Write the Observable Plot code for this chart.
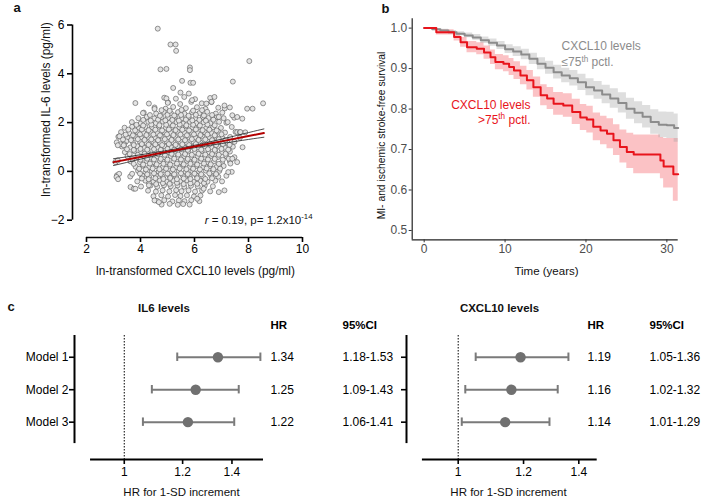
<!DOCTYPE html>
<html><head><meta charset="utf-8">
<script src="https://cdn.jsdelivr.net/npm/d3@7"></script>
<script src="https://cdn.jsdelivr.net/npm/@observablehq/plot@0.6"></script>
<style>
html,body{margin:0;padding:0;background:#fff;}
#wrap{position:relative;width:702px;height:499px;overflow:hidden;background:#fff;}
#wrap svg{position:absolute;left:0;top:0;background:transparent !important;overflow:visible;max-width:none;}
</style></head><body><div id="wrap"></div>
<script>
// ---------- Panel a: scatter (ln CXCL10 vs ln IL-6) ----------
const scatterCore = [
[4.88,3.02],[5.31,2.98],[5.62,3.05],[6.02,2.96],[6.58,3.01],
[4.31,2.78],[5.02,2.83],[5.47,2.76],[5.88,2.85],[6.27,2.79],[6.63,2.84],
[4.52,2.62],[4.93,2.57],[5.21,2.64],[5.68,2.59],[6.09,2.63],[6.41,2.56],[6.88,2.61],[7.12,2.58],
[4.12,2.41],[4.58,2.37],[4.86,2.44],[5.13,2.38],[5.39,2.43],[5.63,2.36],[5.91,2.42],[6.18,2.39],[6.47,2.44],[6.79,2.37],[7.03,2.41],
[3.92,2.18],[4.23,2.23],[4.51,2.17],[4.78,2.22],[5.02,2.19],[5.28,2.24],[5.52,2.17],[5.79,2.21],[6.03,2.16],[6.31,2.23],[6.52,2.19],[6.83,2.22],[7.08,2.18],[7.47,2.2],
[3.68,2.02],[4.01,1.97],[4.29,2.03],[4.57,1.98],[4.83,2.04],[5.08,1.99],[5.33,2.02],[5.58,1.96],[5.83,2.03],[6.07,1.98],[6.34,2.01],[6.59,1.97],[6.91,2.03],[7.18,1.99],
[3.41,1.79],[3.69,1.83],[3.93,1.77],[4.18,1.82],[4.42,1.78],[4.68,1.83],[4.93,1.77],[5.17,1.81],[5.43,1.78],[5.68,1.84],[5.92,1.79],[6.17,1.82],[6.43,1.77],[6.69,1.81],[6.98,1.78],[7.38,1.82],
[3.28,1.61],[3.58,1.57],[3.87,1.62],[4.11,1.58],[4.37,1.63],[4.62,1.57],[4.88,1.61],[5.12,1.58],[5.37,1.63],[5.62,1.59],[5.87,1.62],[6.12,1.57],[6.38,1.61],[6.62,1.58],[6.88,1.63],[7.13,1.59],[7.52,1.62],[7.88,1.6],
[3.18,1.42],[3.51,1.38],[3.79,1.43],[4.03,1.37],[4.28,1.41],[4.53,1.38],[4.78,1.43],[5.03,1.39],[5.28,1.42],[5.53,1.37],[5.78,1.41],[6.03,1.38],[6.28,1.43],[6.53,1.39],[6.78,1.42],[7.03,1.37],[7.32,1.41],[7.68,1.38],
[3.12,1.19],[3.47,1.23],[3.72,1.18],[3.98,1.22],[4.22,1.17],[4.47,1.21],[4.72,1.18],[4.97,1.23],[5.22,1.19],[5.47,1.22],[5.72,1.17],[5.97,1.21],[6.22,1.18],[6.47,1.23],[6.72,1.19],[6.97,1.22],[7.22,1.18],[7.48,1.21],
[3.31,1.02],[3.62,0.98],[3.88,1.03],[4.13,0.97],[4.38,1.01],[4.63,0.98],[4.88,1.03],[5.13,0.99],[5.38,1.02],[5.63,0.97],[5.88,1.01],[6.13,0.98],[6.38,1.03],[6.63,0.99],[6.88,1.02],[7.13,0.97],[7.42,1.01],[7.78,0.99],
[3.42,0.79],[3.78,0.83],[4.02,0.77],[4.27,0.82],[4.52,0.78],[4.77,0.83],[5.02,0.79],[5.27,0.81],[5.52,0.77],[5.77,0.82],[6.02,0.78],[6.27,0.83],[6.52,0.79],[6.77,0.82],[7.02,0.78],[7.31,0.81],
[3.52,0.62],[3.88,0.58],[4.12,0.63],[4.37,0.57],[4.62,0.61],[4.87,0.58],[5.12,0.63],[5.37,0.59],[5.62,0.62],[5.87,0.57],[6.12,0.61],[6.37,0.58],[6.62,0.63],[6.87,0.59],[7.18,0.62],[7.48,0.58],
[3.63,0.41],[3.98,0.38],[4.22,0.43],[4.47,0.37],[4.72,0.42],[4.97,0.38],[5.22,0.41],[5.47,0.37],[5.72,0.43],[5.97,0.39],[6.22,0.42],[6.47,0.38],[6.72,0.41],[7.02,0.37],[7.31,0.42],
[3.82,0.19],[4.08,0.23],[4.32,0.18],[4.57,0.22],[4.82,0.17],[5.07,0.21],[5.32,0.18],[5.57,0.23],[5.82,0.19],[6.07,0.22],[6.32,0.17],[6.57,0.21],[6.82,0.18],[7.08,0.22],
[3.91,0.02],[4.18,-0.03],[4.42,0.01],[4.67,-0.02],[4.92,0.03],[5.17,-0.01],[5.42,0.02],[5.67,-0.03],[5.92,0.01],[6.17,-0.02],[6.42,0.03],[6.67,-0.01],[6.92,0.02],[7.38,-0.02],
[3.62,-0.21],[4.07,-0.18],[4.32,-0.23],[4.57,-0.17],[4.82,-0.22],[5.07,-0.19],[5.32,-0.23],[5.57,-0.18],[5.82,-0.21],[6.07,-0.17],[6.32,-0.22],[6.62,-0.19],[6.88,-0.22],[7.18,-0.18],
[3.88,-0.41],[4.18,-0.38],[4.47,-0.43],[4.72,-0.37],[4.97,-0.42],[5.22,-0.38],[5.47,-0.41],[5.72,-0.37],[5.97,-0.43],[6.22,-0.39],[6.48,-0.42],[6.77,-0.38],[7.02,-0.41],
[4.02,-0.62],[4.37,-0.58],[4.62,-0.63],[4.87,-0.57],[5.12,-0.61],[5.37,-0.58],[5.62,-0.63],[5.87,-0.59],[6.12,-0.62],[6.38,-0.58],[6.68,-0.61],
[4.28,-0.79],[4.57,-0.83],[4.82,-0.78],[5.07,-0.82],[5.32,-0.77],[5.52,-0.81],[5.78,-0.78],[6.02,-0.83],[6.28,-0.79],[6.58,-0.82],
[4.48,-1.02],[4.77,-0.98],[5.02,-1.03],[5.28,-0.97],[5.48,-1.01],[5.72,-0.98],[5.98,-1.03],[6.22,-0.99],
[4.62,-1.21],[4.88,-1.18],[5.18,-1.23],[5.42,-1.19],[5.63,-1.22],[5.88,-1.18],[6.18,-1.22],
[4.78,-1.36],[5.08,-1.33],[5.38,-1.37],[5.58,-1.34],[5.82,-1.36]
];
const scatterFill = [
[4.32,-0.49],[4.58,-0.52],[4.83,-0.48],[5.08,-0.51],[5.35,-0.47],[5.6,-0.52],[5.85,-0.49],[6.1,-0.51],[6.35,-0.48],
[4.05,-0.29],[4.3,-0.32],[4.55,-0.28],[4.85,-0.31],[5.1,-0.27],[5.35,-0.32],[5.6,-0.29],[5.85,-0.31],[6.1,-0.28],[6.4,-0.31],[6.65,-0.28],
[3.98,-0.09],[4.25,-0.12],[4.5,-0.08],[4.75,-0.11],[5.0,-0.09],[5.25,-0.12],[5.5,-0.08],[5.75,-0.11],[6.0,-0.09],[6.25,-0.12],[6.55,-0.08],[6.8,-0.11],
[3.95,0.11],[4.2,0.08],[4.45,0.12],[4.7,0.09],[4.95,0.11],[5.2,0.08],[5.45,0.12],[5.7,0.09],[5.95,0.11],[6.2,0.08],[6.45,0.12],[6.7,0.09],[6.95,0.11],
[3.75,0.31],[4.1,0.28],[4.35,0.32],[4.6,0.29],[4.85,0.31],[5.1,0.28],[5.35,0.32],[5.6,0.29],[5.85,0.31],[6.1,0.28],[6.35,0.32],[6.6,0.29],[6.9,0.31],
[3.7,0.51],[4.0,0.48],[4.25,0.52],[4.5,0.49],[4.75,0.51],[5.0,0.48],[5.25,0.52],[5.5,0.49],[5.75,0.51],[6.0,0.48],[6.25,0.52],[6.5,0.49],[6.75,0.51],[7.05,0.48],
[3.6,0.71],[3.9,0.68],[4.15,0.72],[4.4,0.69],[4.65,0.71],[4.9,0.68],[5.15,0.72],[5.4,0.69],[5.65,0.71],[5.9,0.68],[6.15,0.72],[6.4,0.69],[6.65,0.71],[6.9,0.68],[7.15,0.72],
[3.5,0.91],[3.75,0.88],[4.0,0.92],[4.25,0.89],[4.5,0.91],[4.75,0.88],[5.0,0.92],[5.25,0.89],[5.5,0.91],[5.75,0.88],[6.0,0.92],[6.25,0.89],[6.5,0.91],[6.75,0.88],[7.0,0.92],[7.25,0.89],
[3.4,1.11],[3.75,1.08],[4.05,1.12],[4.3,1.09],[4.55,1.11],[4.8,1.08],[5.05,1.12],[5.3,1.09],[5.55,1.11],[5.8,1.08],[6.05,1.12],[6.3,1.09],[6.55,1.11],[6.8,1.08],[7.05,1.12],[7.3,1.09],
[3.35,1.31],[3.65,1.28],[3.9,1.32],[4.15,1.29],[4.4,1.31],[4.65,1.28],[4.9,1.32],[5.15,1.29],[5.4,1.31],[5.65,1.28],[5.9,1.32],[6.15,1.29],[6.4,1.31],[6.65,1.28],[6.9,1.32],[7.15,1.29],
[3.45,1.51],[3.72,1.48],[3.98,1.52],[4.22,1.49],[4.48,1.51],[4.72,1.48],[4.98,1.52],[5.22,1.49],[5.48,1.51],[5.72,1.48],[5.98,1.52],[6.22,1.49],[6.48,1.51],[6.75,1.48],[7.0,1.52],
[3.55,1.71],[3.8,1.68],[4.05,1.72],[4.3,1.69],[4.55,1.71],[4.8,1.68],[5.05,1.72],[5.3,1.69],[5.55,1.71],[5.8,1.68],[6.05,1.72],[6.3,1.69],[6.55,1.71],[6.82,1.68],
[3.85,1.91],[4.1,1.88],[4.4,1.92],[4.7,1.89],[4.95,1.91],[5.2,1.88],[5.45,1.92],[5.7,1.89],[5.95,1.91],[6.2,1.88],[6.48,1.92],[6.75,1.89],
[4.1,2.11],[4.38,2.08],[4.65,2.12],[4.92,2.09],[5.18,2.11],[5.42,2.08],[5.68,2.12],[5.92,2.09],[6.18,2.11],[6.42,2.08],[6.7,2.12],
[4.35,2.31],[4.72,2.28],[5.0,2.32],[5.25,2.29],[5.5,2.31],[5.78,2.28],[6.05,2.32],[6.35,2.29],[6.65,2.31],
[4.78,2.51],[5.08,2.48],[5.52,2.52],[5.95,2.49],[6.28,2.51]
];
const scatterOutliers = [
[4.64,5.85],[5.11,5.2],[5.3,5.2],[5.32,4.94],[4.74,4.18],[4.96,4.2],[5.83,4.26],[5.83,4.15],
[5.54,3.71],[5.85,3.63],[5.95,3.63],[5.21,3.42],[5.48,3.23],[5.79,3.19],[3.81,2.8],[4.52,2.56],
[5.91,2.92],[4.96,2.99],[5.01,2.81],[4.09,2.39],[8.03,4.52],[7.42,3.68],[8.54,2.79],[7.95,2.57],
[8.15,2.57],[6.74,3.05],[6.44,2.78],[6.63,2.85],[7.11,2.7],[7.31,2.62],[7.4,2.3],[7.58,2.23],
[7.77,2.16],[7.23,2.02],[6.9,2.23],[7.27,0.52],[7.33,0.32],[7.58,1.61],[7.68,1.61],[6.9,-0.85],
[7.11,-0.78],[7.25,-0.03],[3.07,0.38],[3.16,0.45],[3.13,-0.16],[3.21,-0.1],[3.22,1.44],[3.26,1.11],
[3.63,-0.64],[3.75,-0.71],[3.16,1.07],[3.38,1.07],[3.11,-0.23],[3.17,-0.32],[3.81,-0.71],[3.69,-0.1],
[4.31,-0.57],[4.52,-1.19],[4.68,-1.26],[7.4,0.52],[7.58,0.38],[6.34,-0.71],[6.1,-1.12],[7.7,1.61]
];
const fitX  = [3, 4, 5, 5.5, 6, 7, 8, 8.57];
const fitY  = [0.38, 0.59, 0.81, 0.91, 1.02, 1.23, 1.45, 1.57];
const fitLo = [0.24, 0.50, 0.76, 0.87, 0.97, 1.14, 1.31, 1.40];
const fitHi = [0.52, 0.68, 0.86, 0.96, 1.07, 1.32, 1.59, 1.74];
const aTicksX = [2, 4, 6, 8, 10];
const aTicksY = [-2, 0, 2, 4, 6];

// ---------- Panel b: Kaplan-Meier ----------
const grayT  = [0,1,2,3,4,5,6,7,8,9,10,11,12,13,14,15,16,17,18,19,20,21,22,23,24,25,26,27,28,29,30,30.9,31.4];
const grayS  = [1,0.997,0.994,0.990,0.986,0.982,0.977,0.970,0.964,0.957,0.948,0.942,0.935,0.924,0.912,0.902,0.891,0.883,0.876,0.866,0.854,0.846,0.836,0.826,0.815,0.801,0.791,0.781,0.768,0.761,0.760,0.753,0.753];
const grayLo = [1,0.995,0.991,0.986,0.981,0.976,0.970,0.962,0.955,0.947,0.937,0.930,0.922,0.910,0.897,0.886,0.874,0.865,0.857,0.846,0.833,0.824,0.813,0.802,0.790,0.775,0.764,0.753,0.738,0.729,0.727,0.718,0.718];
const grayHi = [1,0.999,0.997,0.994,0.991,0.988,0.984,0.978,0.973,0.967,0.959,0.954,0.948,0.938,0.927,0.918,0.908,0.901,0.895,0.886,0.875,0.868,0.859,0.850,0.840,0.827,0.818,0.809,0.798,0.793,0.792,0.788,0.788];
const redT  = [0,1.5,3.7,4.5,5.3,6.5,7.4,8.2,8.8,9.8,10.5,11.1,11.9,12.7,13.5,14.4,15.2,16.0,17.2,18.3,19.3,20.1,20.9,21.8,22.6,23.4,24.2,25.05,25.9,29.2,29.6,30.8,31.4];
const redS  = [1,0.990,0.978,0.965,0.953,0.949,0.940,0.928,0.916,0.912,0.904,0.895,0.883,0.871,0.854,0.834,0.826,0.813,0.809,0.793,0.779,0.774,0.756,0.747,0.739,0.723,0.706,0.694,0.688,0.673,0.658,0.639,0.639];
const redLo = [1,0.983,0.968,0.953,0.939,0.934,0.923,0.910,0.897,0.892,0.883,0.873,0.860,0.847,0.829,0.808,0.799,0.785,0.780,0.762,0.747,0.741,0.722,0.712,0.702,0.685,0.667,0.653,0.640,0.628,0.605,0.572,0.572];
const redHi = [1,0.996,0.988,0.977,0.967,0.964,0.956,0.946,0.935,0.932,0.925,0.917,0.906,0.895,0.879,0.860,0.853,0.841,0.838,0.824,0.811,0.807,0.790,0.782,0.776,0.761,0.748,0.740,0.736,0.730,0.727,0.727,0.727];
const bTicksX = [0, 10, 20, 30];
const bTicksY = [0.5, 0.6, 0.7, 0.8, 0.9, 1.0];

// ---------- Panel c: forest plots ----------
const models = ["Model 1", "Model 2", "Model 3"];
const il6HR = [1.34, 1.25, 1.22];
const il6Lo = [1.18, 1.09, 1.06];
const il6Hi = [1.53, 1.43, 1.41];
const cxHR  = [1.19, 1.16, 1.14];
const cxLo  = [1.05, 1.02, 1.01];
const cxHi  = [1.36, 1.32, 1.29];
const tableCols = ["HR", "95%CI"];
const cTicksX = [1, 1.2, 1.4];

// ---------- helpers ----------
const W = 702, H = 499;
const FONT = "Arial, 'Liberation Sans', Helvetica, sans-serif";
const base = {width: W, height: H, style: {fontFamily: FONT, fontSize: "11px", background: "transparent", overflow: "visible"}};
const wrap = document.getElementById("wrap");
const add = (p) => { wrap.appendChild(p); return p; };

// Panel a
const fitRows = fitX.map((x, i) => ({x, y: fitY[i], lo: fitLo[i], hi: fitHi[i]}));
const aXmin = 1.4815, aYmin = -2.71;
add(Plot.plot({
  ...base,
  marginLeft: 72, marginRight: W - 302, marginTop: 24.5, marginBottom: H - 237,
  x: {domain: [aXmin, 10]}, y: {domain: [aYmin, 6]},
  marks: [
    Plot.dot([...scatterCore, ...scatterFill, ...scatterOutliers], {x: d => d[0], y: d => d[1], r: 2.5, fill: "#e4e4e4", stroke: "#505050", strokeWidth: 0.6}),
    Plot.line(fitRows, {x: "x", y: "lo", curve: "natural", stroke: "#222", strokeWidth: 0.8}),
    Plot.line(fitRows, {x: "x", y: "hi", curve: "natural", stroke: "#222", strokeWidth: 0.8}),
    Plot.line(fitRows, {x: "x", y: "y", stroke: "#b40000", strokeWidth: 2}),
    Plot.ruleX([aXmin], {y1: -2, y2: 6, stroke: "#000", strokeWidth: 1.6}),
    Plot.ruleY([aYmin], {x1: 2, x2: 10, stroke: "#000", strokeWidth: 1.6}),
    Plot.axisY(aTicksY, {tickSize: 5, tickPadding: 3, strokeWidth: 1.6, fontSize: 12, label: null}),
    Plot.axisX(aTicksX, {tickSize: 5, tickPadding: 2, strokeWidth: 1.6, fontSize: 12, label: null})
  ]
}));

// Panel b
const grayRows = grayT.map((t, i) => ({t, s: grayS[i], lo: grayLo[i], hi: grayHi[i]}));
const redRows = redT.map((t, i) => ({t, s: redS[i], lo: redLo[i], hi: redHi[i]}));
const bXmin = -1.48, bXmax = 31.4, bYmin = 0.477, bYmax = 1.023;
add(Plot.plot({
  ...base,
  marginLeft: 411.7, marginRight: W - 677.7, marginTop: 18.3, marginBottom: H - 239.3,
  x: {domain: [bXmin, bXmax]}, y: {domain: [bYmin, bYmax]},
  marks: [
    Plot.areaY(redRows, {x: "t", y1: "lo", y2: "hi", curve: "step-after", fill: "#f2343f", fillOpacity: 0.3}),
    Plot.areaY(grayRows, {x: "t", y1: "lo", y2: "hi", curve: "step-after", fill: "#a0a0a0", fillOpacity: 0.35}),
    Plot.line(grayRows, {x: "t", y: "s", curve: "step-after", stroke: "#8c8c8c", strokeWidth: 2}),
    Plot.line(redRows, {x: "t", y: "s", curve: "step-after", stroke: "#e8141c", strokeWidth: 2}),
    Plot.ruleX([bXmin], {y1: bYmin, y2: bYmax, stroke: "#222", strokeWidth: 1.2}),
    Plot.ruleY([bYmin], {x1: bXmin, x2: bXmax, stroke: "#222", strokeWidth: 1.2}),
    Plot.axisY(bTicksY, {tickSize: 3, tickPadding: 2, tickFormat: d3.format(".1f"), stroke: "#333", fill: "#4d4d4d", fontSize: 12, label: null}),
    Plot.axisX(bTicksX, {tickSize: 3, tickPadding: 2, stroke: "#333", fill: "#4d4d4d", fontSize: 12, label: null})
  ]
}));

// Panel c forest plots
function forest({hr, lo, hi, left, right, xmin, xmax, axisStart, showLabels}) {
  const rows = models.map((m, i) => ({row: i + 1, hr: hr[i], lo: lo[i], hi: hi[i]}));
  const yTop = 0.33, yBot = 4.15;
  add(Plot.plot({
    ...base,
    marginLeft: left, marginRight: W - right, marginTop: 335, marginBottom: H - 459,
    x: {type: "log", domain: [xmin, xmax]}, y: {domain: [yTop, yBot], reverse: true},
    marks: [
      Plot.ruleX([1], {y1: yTop, y2: yBot, stroke: "#000", strokeWidth: 1, strokeDasharray: "1.5,1.5"}),
      Plot.ruleY(rows, {y: "row", x1: "lo", x2: "hi", stroke: "#7a7a7a", strokeWidth: 2}),
      Plot.ruleX(rows, {x: "lo", y1: d => d.row - 0.13, y2: d => d.row + 0.13, stroke: "#7a7a7a", strokeWidth: 2}),
      Plot.ruleX(rows, {x: "hi", y1: d => d.row - 0.13, y2: d => d.row + 0.13, stroke: "#7a7a7a", strokeWidth: 2}),
      Plot.dot(rows, {x: "hr", y: "row", r: 5.2, fill: "#707070"}),
      Plot.ruleX([xmin], {y1: yTop, y2: 3.66, stroke: "#000", strokeWidth: 2}),
      Plot.ruleY([yBot], {x1: axisStart, x2: xmax, stroke: "#000", strokeWidth: 2}),
      Plot.axisY([1, 2, 3], {tickFormat: d => showLabels ? models[d - 1] : "", tickSize: 5, tickPadding: 1, strokeWidth: 1.6, fontSize: 12, label: null}),
      Plot.axisX(cTicksX, {tickFormat: d => String(d), tickSize: 5, tickPadding: 3, strokeWidth: 1.6, fontSize: 12, label: null})
    ]
  }));
}
function table({hr, lo, hi, left, right}) {
  const rows = models.map((m, i) => ({row: i + 1, hr: d3.format(".2f")(hr[i]), ci: d3.format(".2f")(lo[i]) + "-" + d3.format(".2f")(hi[i])}));
  add(Plot.plot({
    ...base,
    marginLeft: left, marginRight: W - right, marginTop: 335, marginBottom: H - 459,
    x: {type: "point", domain: tableCols, padding: 0, axis: null},
    y: {domain: [0.33, 4.15], reverse: true, axis: null},
    marks: [
      Plot.text(tableCols, {x: d => d, y: () => 0.03, text: d => d, textAnchor: "start", fontWeight: "bold", fontSize: 11.5}),
      Plot.text(rows, {x: () => tableCols[0], y: "row", text: "hr", textAnchor: "start", fontSize: 12}),
      Plot.text(rows, {x: () => tableCols[1], y: "row", text: "ci", textAnchor: "start", fontSize: 12})
    ]
  }));
}
forest({hr: il6HR, lo: il6Lo, hi: il6Hi, left: 74, right: 263, xmin: 0.856, xmax: 1.545, axisStart: 0.9, showLabels: true});
table({hr: il6HR, lo: il6Lo, hi: il6Hi, left: 270, right: 342});
forest({hr: cxHR, lo: cxLo, hi: cxHi, left: 406, right: 596.7, xmin: 0.8657, xmax: 1.4737, axisStart: 0.905, showLabels: false});
table({hr: cxHR, lo: cxLo, hi: cxHi, left: 586.5, right: 649});

// Text layer (titles, labels, annotations)
const labels = [
  {t: "a", x: 13, y: 7.8, fs: 13, fw: "bold"},
  {t: "b", x: 381, y: 8.8, fs: 13, fw: "bold"},
  {t: "c", x: 7, y: 306.8, fs: 13, fw: "bold"},
  {t: "ln-transformed IL-6 levels (pg/ml)", x: 46, y: 109, fs: 11.9, anchor: "middle", rot: -90},
  {t: "ln-transformed CXCL10 levels (pg/ml)", x: 195, y: 270.5, fs: 11.9, anchor: "middle"},
  {t: "{i:r} = 0.19, p= 1.2x10{s:-14}", x: 312, y: 219.5, fs: 11.5, anchor: "end"},
  {t: "MI- and ischemic stroke-free survival", x: 381, y: 135, fs: 10.3, anchor: "middle", rot: -90},
  {t: "Time (years)", x: 546, y: 271, fs: 11.5, anchor: "middle"},
  {t: "CXCL10 levels", x: 561, y: 46, fs: 12, fill: "#8c8c8c"},
  {t: "\u226475{s:th} pctl.", x: 561, y: 62, fs: 12, fill: "#8c8c8c"},
  {t: "CXCL10 levels", x: 530, y: 104.5, fs: 12, fill: "#e8141c", anchor: "end"},
  {t: ">75{s:th} pctl.", x: 530, y: 119.5, fs: 12, fill: "#e8141c", anchor: "end"},
  {t: "IL6 levels", x: 163.5, y: 308, fs: 11.5, fw: "bold", anchor: "middle"},
  {t: "CXCL10 levels", x: 499, y: 308, fs: 11.5, fw: "bold", anchor: "middle"},
  {t: "HR for 1-SD increment", x: 181, y: 492, fs: 11.5, anchor: "middle"},
  {t: "HR for 1-SD increment", x: 508, y: 492, fs: 11.5, anchor: "middle"}
];
add(Plot.plot({
  ...base, margin: 0,
  marks: labels.map(l => Plot.text([l], {
    frameAnchor: "top-left", dx: l.x, dy: l.y, text: d => d.t, lineAnchor: "middle",
    textAnchor: l.anchor || "start", fontSize: l.fs, fontWeight: l.fw || "normal",
    fill: l.fill || "#111", rotate: l.rot || 0
  }))
}));

// rich text: {i:...} italic, {s:...} superscript
const NS = "http://www.w3.org/2000/svg";
for (const t of wrap.querySelectorAll("text")) {
  const s = t.textContent;
  if (!/\{[is]:/.test(s)) continue;
  const fs = parseFloat(getComputedStyle(t).fontSize) || 11;
  const parts = s.split(/(\{[is]:[^}]*\})/).filter(p => p.length);
  while (t.firstChild) t.removeChild(t.firstChild);
  let shift = 0;
  for (const p of parts) {
    const m = p.match(/^\{([is]):([^}]*)\}$/);
    const ts = document.createElementNS(NS, "tspan");
    let target = 0;
    if (m && m[1] === "s") { ts.setAttribute("font-size", (fs * 0.68).toFixed(2) + "px"); target = -fs * 0.4; ts.textContent = m[2]; }
    else if (m) { ts.setAttribute("font-style", "italic"); ts.textContent = m[2]; }
    else ts.textContent = p;
    if (target !== shift) { ts.setAttribute("dy", (target - shift).toFixed(2)); shift = target; }
    t.appendChild(ts);
  }
}
</script></body></html>
